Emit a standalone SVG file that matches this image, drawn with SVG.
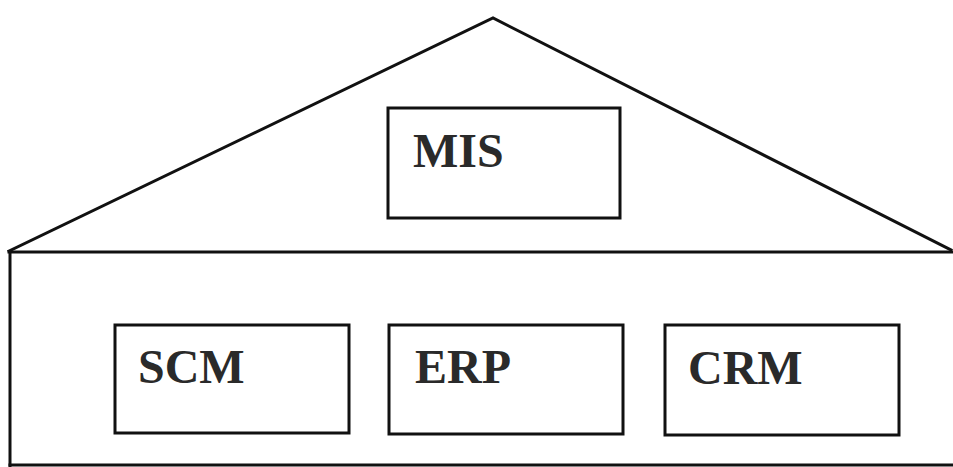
<svg xmlns="http://www.w3.org/2000/svg" width="953" height="467" viewBox="0 0 953 467">
<style>
.ln{fill:none;stroke:#111;stroke-width:3;stroke-linejoin:miter;stroke-linecap:square}
.bx{fill:none;stroke:#111;stroke-width:3}
.lb{font-family:"Liberation Serif","Times New Roman",serif;font-weight:bold;font-size:48px;fill:#2a2a2a}
</style>
<rect width="953" height="467" fill="#fff"/>
<g id="house">
<polyline class="ln" points="9,251 493,18 951,250"/>
<line class="ln" x1="9" y1="252" x2="953" y2="252"/>
<line class="ln" x1="10" y1="252" x2="10" y2="467"/>
<line class="ln" x1="10" y1="465" x2="953" y2="465"/>
</g>
<g id="mis">
<rect class="bx" x="388" y="108" width="232" height="110"/>
<text class="lb" x="413" y="167">MIS</text>
</g>
<g id="scm">
<rect class="bx" x="115" y="325" width="234" height="108"/>
<text class="lb" x="138" y="383">SCM</text>
</g>
<g id="erp">
<rect class="bx" x="389" y="325" width="234" height="109"/>
<text class="lb" x="415" y="383">ERP</text>
</g>
<g id="crm">
<rect class="bx" x="665" y="325" width="234" height="110"/>
<text class="lb" x="688" y="384">CRM</text>
</g>
<g id="connectors"></g>
</svg>
